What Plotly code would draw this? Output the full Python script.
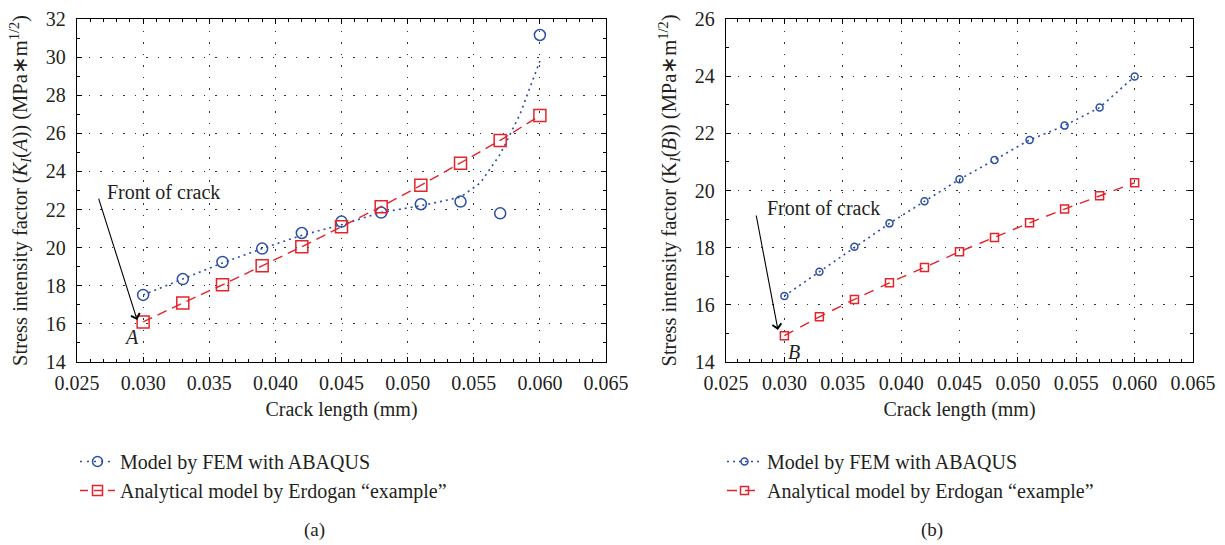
import plotly.graph_objects as go

# ---------------- data ----------------
crack_length = [0.030, 0.033, 0.036, 0.039, 0.042, 0.045, 0.048, 0.051, 0.054, 0.057, 0.060]

fem_a = [17.52, 18.35, 19.25, 19.95, 20.77, 21.37, 21.84, 22.28, 22.42, 21.80, 31.16]
erdogan_a = [16.10, 17.10, 18.05, 19.05, 20.05, 21.10, 22.15, 23.27, 24.43, 25.63, 26.93]

# dotted fitted curve through FEM results in (a)
fem_fit_x = [0.030, 0.033, 0.036, 0.039, 0.042, 0.045, 0.048, 0.051, 0.054, 0.0555, 0.057, 0.0585, 0.060]
fem_fit_a = [17.52, 18.35, 19.20, 19.95, 20.65, 21.20, 21.85, 22.20, 22.65, 23.40, 24.90, 27.00, 29.80]

fem_b = [16.31, 17.16, 18.03, 18.85, 19.62, 20.39, 21.07, 21.77, 22.27, 22.90, 23.99]
erdogan_b = [14.92, 15.58, 16.19, 16.77, 17.31, 17.86, 18.36, 18.87, 19.35, 19.82, 20.27]

name_fem = "Model by FEM with ABAQUS"
name_erd = "Analytical model by Erdogan \u201cexample\u201d"

# ---------------- style ----------------
BLUE = "#2B4EA6"
RED = "#E5232B"
TXT = "#231F20"
FONT = "Liberation Serif"
FS = 20
W, H = 1225, 545

fig = go.Figure()

# ---- panel (a)
fig.add_trace(go.Scatter(x=fem_fit_x, y=fem_fit_a, mode="lines", xaxis="x", yaxis="y",
                         line=dict(color=BLUE, width=1.6, dash="2px,4px"), showlegend=False,
                         hoverinfo="skip"))
fig.add_trace(go.Scatter(x=crack_length, y=fem_a, mode="markers", xaxis="x", yaxis="y",
                         marker=dict(symbol="circle-open", size=11, color=BLUE, line=dict(width=1.5, color=BLUE)),
                         showlegend=False))
fig.add_trace(go.Scatter(x=crack_length, y=erdogan_a, mode="lines+markers", xaxis="x", yaxis="y",
                         line=dict(color=RED, width=1.4, dash="10px,6px"),
                         marker=dict(symbol="square-open", size=12, color=RED, line=dict(width=1.5, color=RED)),
                         showlegend=False))
# legend entries (a)
fig.add_trace(go.Scatter(x=[None], y=[None], mode="lines+markers", xaxis="x", yaxis="y", name=name_fem,
                         line=dict(color=BLUE, width=1.6, dash="2px,5px"),
                         marker=dict(symbol="circle-open", size=10, color=BLUE, line=dict(width=1.5, color=BLUE)),
                         legend="legend"))
fig.add_trace(go.Scatter(x=[None], y=[None], mode="lines+markers", xaxis="x", yaxis="y", name=name_erd,
                         line=dict(color=RED, width=1.6, dash="8px,6px"),
                         marker=dict(symbol="square-open", size=10, color=RED, line=dict(width=1.5, color=RED)),
                         legend="legend"))

# ---- panel (b)
fig.add_trace(go.Scatter(x=crack_length, y=fem_b, mode="lines+markers", xaxis="x2", yaxis="y2",
                         line=dict(color=BLUE, width=1.6, dash="2px,4px"),
                         marker=dict(symbol="circle-open", size=7, color=BLUE, line=dict(width=1.5, color=BLUE)),
                         name=name_fem, legend="legend2"))
fig.add_trace(go.Scatter(x=crack_length, y=erdogan_b, mode="lines+markers", xaxis="x2", yaxis="y2",
                         line=dict(color=RED, width=1.4, dash="10px,8px"),
                         marker=dict(symbol="square-open", size=8, color=RED, line=dict(width=1.5, color=RED)),
                         name=name_erd, legend="legend2"))

# ---------------- axes ----------------
ydom = [1 - 362 / H, 1 - 19 / H]
common_x = dict(range=[0.025, 0.065], dtick=0.005, tick0=0.025, tickformat=".3f",
                showline=True, linecolor="black", linewidth=1.3, mirror="ticks",
                ticks="inside", ticklen=5, tickcolor="black",
                showgrid=True, gridcolor="#333333", gridwidth=1, griddash="1.5px,10px",
                zeroline=False, ticklabelstandoff=3, automargin=False,
                minor=dict(ticks="inside", ticklen=3, dtick=0.001, tickcolor="black", showgrid=False),
                tickfont=dict(family=FONT, size=FS, color=TXT),
                title=dict(text="Crack length (mm)", font=dict(family=FONT, size=FS, color=TXT), standoff=8))
common_y = dict(dtick=2, showline=True, linecolor="black", linewidth=1.3, mirror="ticks",
                ticks="inside", ticklen=5, tickcolor="black",
                showgrid=True, gridcolor="#333333", gridwidth=1, griddash="1.5px,10px",
                zeroline=False, ticklabelstandoff=6, automargin=False,
                minor=dict(ticks="inside", ticklen=3, dtick=1, tickcolor="black", showgrid=False),
                tickfont=dict(family=FONT, size=FS, color=TXT))

fig.update_layout(
    xaxis=dict(common_x, domain=[77 / W, 606 / W], anchor="y"),
    yaxis=dict(common_y, domain=ydom, range=[14, 32], anchor="x",
               title=dict(text="Stress intensity factor (<i>K</i><sub><i>I</i></sub>(<i>A</i>)) (MPa\u2217m<sup>1/2</sup>)",
                          font=dict(family=FONT, size=FS + 0.5, color=TXT), standoff=12)),
    xaxis2=dict(common_x, domain=[726 / W, 1193 / W], anchor="y2"),
    yaxis2=dict(common_y, domain=ydom, range=[14, 26], anchor="x2",
                title=dict(text="Stress intensity factor (K<sub><i>I</i></sub>(<i>B</i>)) (MPa\u2217m<sup>1/2</sup>)",
                           font=dict(family=FONT, size=FS + 0.5, color=TXT), standoff=12)),
)

legend_common = dict(font=dict(family=FONT, size=FS, color=TXT), bgcolor="rgba(0,0,0,0)",
                     xanchor="left", yanchor="top", itemwidth=35, tracegroupgap=0)
fig.update_layout(
    legend=dict(legend_common, x=75 / W, y=1 - 442 / H),
    legend2=dict(legend_common, x=722 / W, y=1 - 442 / H),
)

# ---------------- annotations ----------------
ann_font = dict(family=FONT, size=FS, color=TXT)
annotations = [
    # panel (a)
    dict(xref="x", yref="y", x=0.02955, y=16.2, ax=-39, ay=-123, axref="pixel", ayref="pixel",
         text="", showarrow=True, arrowhead=4, arrowsize=1.6, arrowwidth=1.1, arrowcolor="black"),
    dict(xref="x", yref="y", x=0.02712, y=22.92, text="Front of crack", showarrow=False,
         xanchor="left", yanchor="middle", font=ann_font),
    dict(xref="x", yref="y", x=0.02909, y=15.32, text="<i>A</i>", showarrow=False,
         xanchor="center", yanchor="middle", font=ann_font),
    # panel (b)
    dict(xref="x2", yref="y2", x=0.02945, y=15.12, ax=-22, ay=-116, axref="pixel", ayref="pixel",
         text="", showarrow=True, arrowhead=4, arrowsize=1.6, arrowwidth=1.1, arrowcolor="black"),
    dict(xref="x2", yref="y2", x=0.02834, y=19.39, text="Front of crack", showarrow=False,
         xanchor="left", yanchor="middle", font=ann_font),
    dict(xref="x2", yref="y2", x=0.0308, y=14.35, text="<i>B</i>", showarrow=False,
         xanchor="center", yanchor="middle", font=ann_font),
    # captions
    dict(xref="paper", yref="paper", x=315 / W, y=1 - 530 / H, text="(a)", showarrow=False,
         xanchor="center", yanchor="middle", font=dict(family=FONT, size=FS - 1, color=TXT)),
    dict(xref="paper", yref="paper", x=932 / W, y=1 - 530 / H, text="(b)", showarrow=False,
         xanchor="center", yanchor="middle", font=dict(family=FONT, size=FS - 1, color=TXT)),
]
fig.update_layout(annotations=annotations)

fig.update_layout(width=W, height=H, autosize=False,
                  margin=dict(l=0, r=0, t=0, b=0, pad=0),
                  paper_bgcolor="white", plot_bgcolor="white",
                  font=dict(family=FONT, color=TXT))

fig.write_html("out.html")
